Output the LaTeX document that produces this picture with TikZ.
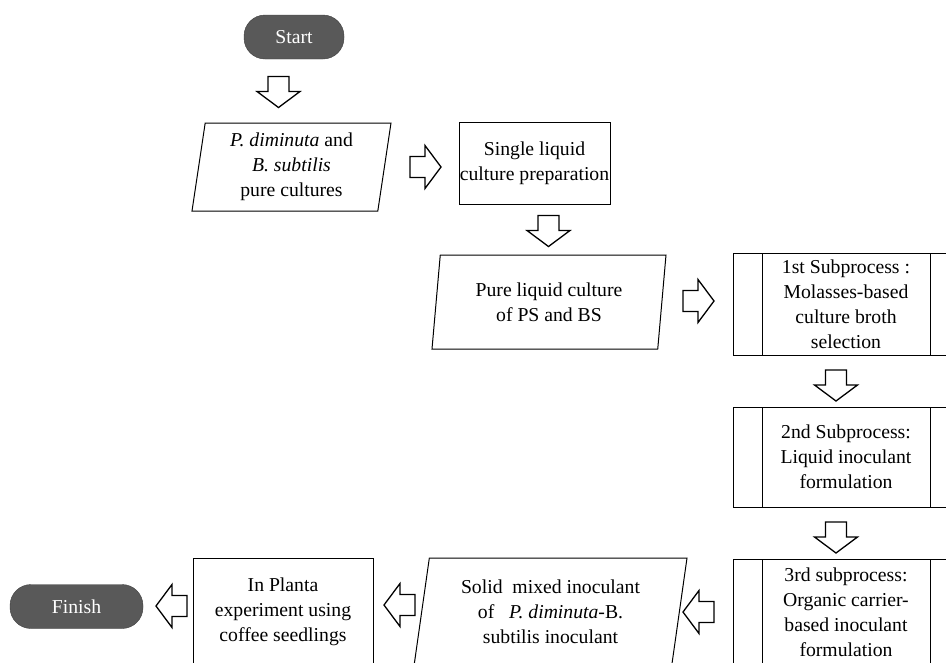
\documentclass[tikz,border=0pt]{standalone}
\usepackage{fontspec}
\setmainfont{Liberation Serif}
\usetikzlibrary{shapes.geometric}
\newcommand\flowfont{\fontsize{19.7}{25}\selectfont}

\begin{document}
\begin{tikzpicture}[x=1pt,y=-1pt,
  every node/.style={font=\flowfont, align=center},
  term/.style={draw=black!75, fill=black!65, text=white, rounded corners=21pt, minimum height=44pt, inner sep=0pt},
  proc/.style={draw, line width=1pt, inner sep=0pt},
  io/.style={draw, line width=1pt, trapezium, trapezium stretches body, inner sep=0pt},
  subproc/.style={draw, line width=1pt, minimum width=226pt, inner sep=0pt, path picture={
    \draw[line width=1pt] ([xshift=29pt]path picture bounding box.north west) -- ([xshift=29pt]path picture bounding box.south west);
    \draw[line width=1pt] ([xshift=-29pt]path picture bounding box.north east) -- ([xshift=-29pt]path picture bounding box.south east);}},
  pics/blkarrow/.style={code={
    \draw[line width=1.3pt, fill=white, line join=miter] (-15,-10.5) -- (0,-10.5) -- (0,-21.5) -- (16,0) -- (0,21.5) -- (0,10.5) -- (-15,10.5) -- cycle;}}
]
\useasboundingbox (0,0) rectangle (946,662);
\clip (0,0) rectangle (946,662);

\node[term, minimum width=100pt] (start) at (294,37) {Start};
\node[io, minimum width=199pt, minimum height=88pt, trapezium left angle=79, trapezium right angle=101] (pure) at (291.5,167) {\textit{P. diminuta} and\\\textit{B. subtilis}\\pure cultures};
\node[proc, minimum width=151pt, minimum height=82pt] (single) at (534.5,163) {Single liquid\\culture preparation};
\node[io, minimum width=234pt, minimum height=94pt, trapezium left angle=78, trapezium right angle=102] (liquid) at (549,302) {Pure liquid culture\\of PS and BS};
\node[subproc, minimum height=102pt] (sub1) at (846,304) {1st Subprocess :\\Molasses-based\\culture broth\\selection};
\node[subproc, minimum height=100pt] (sub2) at (846,457) {2nd Subprocess:\\Liquid inoculant\\formulation};
\node[subproc, minimum height=106pt] (sub3) at (846,612) {3rd subprocess:\\Organic carrier-\\based inoculant\\formulation};
\node[io, minimum width=273pt, minimum height=108pt, trapezium left angle=76.5, trapezium right angle=103.5] (solid) at (550.5,612) {Solid\ \ mixed inoculant\\of\ \ \ \textit{P. diminuta}-B.\\subtilis inoculant};
\node[proc, minimum width=180pt, minimum height=108pt] (planta) at (283,612) {In Planta\\experiment using\\coffee seedlings};
\node[term, minimum width=133pt] (finish) at (76.5,606.5) {Finish};

\pic[rotate=-90] at (278.5,91.5) {blkarrow};
\pic at (425,167) {blkarrow};
\pic[rotate=-90] at (548.5,230.5) {blkarrow};
\pic at (698,301) {blkarrow};
\pic[rotate=-90] at (836,385) {blkarrow};
\pic[rotate=-90] at (836,537) {blkarrow};
\pic[rotate=180] at (699,612) {blkarrow};
\pic[rotate=180] at (400,605) {blkarrow};
\pic[rotate=180] at (172,606) {blkarrow};
\end{tikzpicture}
\end{document}
